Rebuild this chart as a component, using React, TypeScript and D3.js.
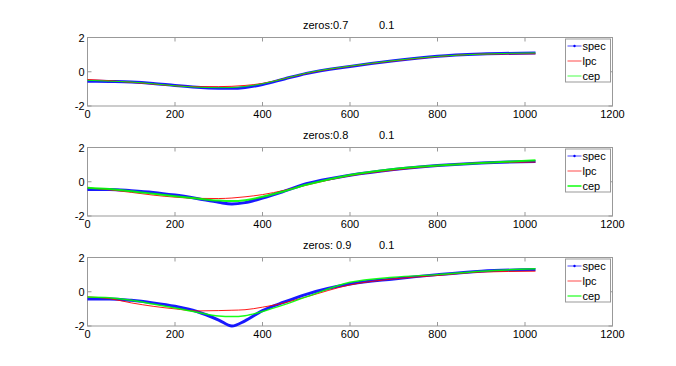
import React from 'react';
import * as d3 from 'd3';

// frequency bins
const bins = [0, 50, 100, 150, 200, 250, 300, 330, 360, 400, 450, 500, 600, 700, 800, 900, 1024];

const zeroLabels = ['zeros:0.7', 'zeros:0.8', 'zeros: 0.9'];
const poleLabel = '0.1';
const seriesNames = ['spec', 'lpc', 'cep'];

const spec07 = [-0.55, -0.57, -0.6, -0.68, -0.8, -0.9, -0.96, -0.97, -0.92, -0.74, -0.42, -0.1, 0.31, 0.64, 0.9, 1.03, 1.1];
const lpc07 = [-0.45, -0.52, -0.62, -0.72, -0.82, -0.87, -0.87, -0.85, -0.8, -0.68, -0.4, -0.1, 0.32, 0.63, 0.88, 1.03, 1.05];
const cep07 = [-0.5, -0.55, -0.6, -0.7, -0.82, -0.9, -0.93, -0.92, -0.86, -0.7, -0.4, -0.08, 0.33, 0.65, 0.9, 1.03, 1.1];

const spec08 = [-0.45, -0.45, -0.52, -0.62, -0.78, -0.98, -1.2, -1.3, -1.22, -0.95, -0.55, -0.12, 0.38, 0.72, 0.95, 1.1, 1.18];
const lpc08 = [-0.35, -0.47, -0.62, -0.78, -0.9, -0.97, -0.98, -0.95, -0.88, -0.75, -0.5, -0.2, 0.35, 0.68, 0.93, 1.1, 1.15];
const cep08 = [-0.35, -0.43, -0.55, -0.7, -0.85, -0.98, -1.1, -1.13, -1.08, -0.88, -0.55, -0.18, 0.4, 0.75, 0.95, 1.1, 1.25];

const spec09 = [-0.42, -0.42, -0.5, -0.65, -0.85, -1.15, -1.65, -2.0, -1.7, -1.1, -0.6, -0.15, 0.45, 0.75, 1.0, 1.2, 1.3];
const lpc09 = [-0.3, -0.4, -0.65, -0.85, -1.0, -1.12, -1.1, -1.08, -1.05, -0.9, -0.65, -0.3, 0.4, 0.75, 0.95, 1.15, 1.2];
const cep09 = [-0.3, -0.35, -0.5, -0.72, -0.95, -1.2, -1.42, -1.45, -1.4, -1.15, -0.75, -0.3, 0.55, 0.85, 1.0, 1.2, 1.35];

const panels = [
  { title: zeroLabels[0], series: [spec07, lpc07, cep07], cepWidth: 1 },
  { title: zeroLabels[1], series: [spec08, lpc08, cep08], cepWidth: 2 },
  { title: zeroLabels[2], series: [spec09, lpc09, cep09], cepWidth: 1.5 },
];

const xTicks = [0, 200, 400, 600, 800, 1000, 1200];
const yTicks = [-2, 0, 2];
const colors = ['#0000ff', '#ff0000', '#00ff00'];

const W = 676;
const H = 366;
const left = 87.5;
const right = 612.5;
const tops = [37.5, 147.5, 257.5];
const ph = 68.5;
const font = '"Liberation Sans", Arial, sans-serif';

const Panel = ({ top, panel }) => {
  const x = d3.scaleLinear().domain([0, 1200]).range([left, right]);
  const y = d3.scaleLinear().domain([-2, 2]).range([top + ph, top]);
  const line = d3.line<number>()
    .x((d, i) => x(bins[i]))
    .y(d => y(d))
    .curve(d3.curveMonotoneX);
  const widths = [3, 1, panel.cepWidth];
  const lx = 565.5;
  const ly = top + 1.5;

  return (
    <g>
      <text x={303} y={top - 8.5} fontSize={11} fontFamily={font}>{panel.title}</text>
      <text x={379} y={top - 8.5} fontSize={11} fontFamily={font}>{poleLabel}</text>
      <rect x={left} y={top} width={right - left} height={ph} fill="#fff" stroke="#999" strokeWidth={1} />
      {xTicks.map(t => (
        <g key={'x' + t}>
          <line x1={x(t)} x2={x(t)} y1={top + ph} y2={top + ph - 4} stroke="#999" />
          <line x1={x(t)} x2={x(t)} y1={top} y2={top + 4} stroke="#999" />
          <text x={x(t)} y={top + ph + 12} fontSize={11} fontFamily={font} textAnchor="middle">{t}</text>
        </g>
      ))}
      {yTicks.map(t => (
        <g key={'y' + t}>
          <line x1={left} x2={left + 4} y1={y(t)} y2={y(t)} stroke="#999" />
          <line x1={right} x2={right - 4} y1={y(t)} y2={y(t)} stroke="#999" />
          <text x={left - 3} y={y(t) + 4} fontSize={11} fontFamily={font} textAnchor="end">{t}</text>
        </g>
      ))}
      {panel.series.map((s, k) => (
        <path key={k} d={line(s) || ''} fill="none" stroke={colors[k]} strokeWidth={widths[k]} strokeLinejoin="round" opacity={0.9} />
      ))}
      <rect x={lx} y={ly} width={45} height={43} fill="#fff" stroke="#999" />
      {seriesNames.map((n, k) => {
        const yy = ly + 7 + k * 15;
        return (
          <g key={n}>
            <line x1={lx + 2} x2={lx + 16} y1={yy} y2={yy} stroke={colors[k]} strokeWidth={k === 2 ? panel.cepWidth : 1} opacity={0.7} />
            {k === 0 && <circle cx={lx + 9} cy={yy} r={1.2} fill={colors[0]} />}
            <text x={lx + 17} y={yy + 4} fontSize={11} fontFamily={font}>{n}</text>
          </g>
        );
      })}
    </g>
  );
};

export default function App() {
  return (
    <svg width={W} height={H} style={{ position: 'absolute', left: 0, top: 0, background: '#fff' }}>
      <rect width={W} height={H} fill="#fff" />
      {panels.map((p, i) => <Panel key={i} top={tops[i]} panel={p} />)}
    </svg>
  );
}
